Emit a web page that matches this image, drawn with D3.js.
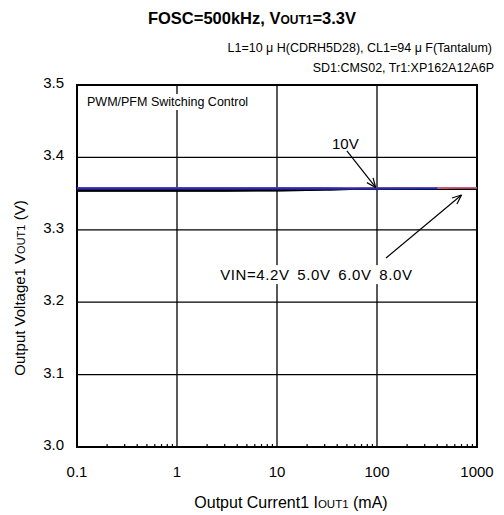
<!DOCTYPE html>
<html>
<head>
<meta charset="utf-8">
<script src="https://cdn.jsdelivr.net/npm/d3@7"></script>
<style>
  body { margin: 0; background: #fff; }
  svg { display: block; font-family: "Liberation Sans", Arial, sans-serif; }
</style>
</head>
<body>
<svg id="chart" width="504" height="515"></svg>
<script>
// load current (mA) and output voltage (V) per input voltage
var currents = [0.1, 0.3, 1, 3, 10, 30, 100, 300, 400, 1000];
var vin42 = [3.3539, 3.3539, 3.3540, 3.3541, 3.3544, 3.3556, 3.3566, 3.3566, 3.3566, 3.3565];
var vin50 = [3.3543, 3.3543, 3.3543, 3.3544, 3.3547, 3.3558, 3.3567, 3.3567, 3.3567, 3.3566];
var vin60 = [3.3550, 3.3550, 3.3550, 3.3551, 3.3554, 3.3562, 3.3568, 3.3568, 3.3568, 3.3567];
var vin80 = [3.3574, 3.3574, 3.3574, 3.3574, 3.3574, 3.3574, 3.3574, 3.3575, 3.3577, 3.3578];
var vin10 = [3.3574, 3.3574, 3.3574, 3.3574, 3.3574, 3.3574, 3.3573, 3.3573, 3.3573, null];
var seriesNames = ["4.2V", "5.0V", "6.0V", "8.0V", "10V"];
var seriesColors = ["#000", "#000", "#000", "#d45a78", "#1a2fd0"];
var xTicks = [0.1, 1, 10, 100, 1000];
var yTicks = [3.0, 3.1, 3.2, 3.3, 3.4, 3.5];

var svg = d3.select("#chart");
var margin = {left: 77, right: 477, top: 85, bottom: 447};

var x = d3.scaleLog().domain([0.1, 1000]).range([margin.left, margin.right]);
var y = d3.scaleLinear().domain([3.0, 3.5]).range([margin.bottom, margin.top]);

// title
var title = svg.append("text")
    .attr("x", 252).attr("y", 24)
    .attr("text-anchor", "middle")
    .style("font-size", "16.5px").style("font-weight", "bold");
title.append("tspan").text("FOSC=500kHz, V");
title.append("tspan").style("font-size", "12px").text("OUT1");
title.append("tspan").text("=3.3V");

svg.append("text").attr("x", 492).attr("y", 52)
    .attr("text-anchor", "end").style("font-size", "12.5px")
    .text("L1=10 \u03bc H(CDRH5D28), CL1=94 \u03bc F(Tantalum)");
svg.append("text").attr("x", 494).attr("y", 72)
    .attr("text-anchor", "end").style("font-size", "12.5px")
    .text("SD1:CMS02, Tr1:XP162A12A6P");

// grid
var grid = svg.append("g");
grid.selectAll("line.v").data(xTicks).enter().append("line")
    .attr("x1", function(d) { return x(d); }).attr("x2", function(d) { return x(d); })
    .attr("y1", margin.top).attr("y2", margin.bottom)
    .attr("stroke", "#000").attr("stroke-width", 1.3);
grid.selectAll("line.h").data(yTicks).enter().append("line")
    .attr("x1", margin.left).attr("x2", margin.right)
    .attr("y1", function(d) { return y(d); }).attr("y2", function(d) { return y(d); })
    .attr("stroke", "#000").attr("stroke-width", 1.3);

// minor ticks along bottom
var minor = [];
xTicks.slice(0, -1).forEach(function(d) {
    for (var k = 2; k <= 9; k++) minor.push(d * k);
});
grid.selectAll("line.m").data(minor).enter().append("line")
    .attr("x1", function(d) { return x(d); }).attr("x2", function(d) { return x(d); })
    .attr("y1", margin.bottom).attr("y2", margin.bottom - 3)
    .attr("stroke", "#000").attr("stroke-width", 1.2);

// frame
svg.append("rect")
    .attr("x", margin.left).attr("y", margin.top)
    .attr("width", margin.right - margin.left).attr("height", margin.bottom - margin.top)
    .attr("fill", "none").attr("stroke", "#000").attr("stroke-width", 2);

// tick labels
svg.selectAll("text.xt").data(xTicks).enter().append("text")
    .attr("x", function(d) { return x(d); }).attr("y", 477)
    .attr("text-anchor", "middle").style("font-size", "15px")
    .text(function(d) { return String(d); });
svg.selectAll("text.yt").data(yTicks).enter().append("text")
    .attr("x", 64).attr("y", function(d) { return y(d) + 3; })
    .attr("text-anchor", "end").style("font-size", "15px")
    .text(function(d) { return d.toFixed(1); });

// axis titles
var xt = svg.append("text").attr("x", 291).attr("y", 508)
    .attr("text-anchor", "middle").style("font-size", "16px");
xt.append("tspan").text("Output Current1  I");
xt.append("tspan").style("font-size", "11.5px").text("OUT1");
xt.append("tspan").text(" (mA)");

var yt = svg.append("text")
    .attr("transform", "translate(25," + 288 + ") rotate(-90)")
    .attr("text-anchor", "middle").style("font-size", "15px");
yt.append("tspan").text("Output Voltage1  V");
yt.append("tspan").style("font-size", "11px").text("OUT1");
yt.append("tspan").text(" (V)");

// labels with white boxes over the grid
function boxLabel(tx, ty, str, size, spacing) {
    var t = svg.append("text").attr("x", tx).attr("y", ty)
        .style("font-size", size + "px")
        .style("letter-spacing", spacing ? spacing + "px" : null)
        .style("word-spacing", spacing ? (spacing * 5) + "px" : null)
        .text(str);
    var b = t.node().getBBox();
    svg.insert("rect", function() { return t.node(); })
        .attr("x", b.x - 2).attr("y", b.y - 1)
        .attr("width", b.width + 4).attr("height", b.height + 2)
        .attr("fill", "#fff");
    return t;
}
boxLabel(87, 106, "PWM/PFM Switching Control", 12.5);

// curves
var line = d3.line()
    .defined(function(d) { return d != null; })
    .x(function(d, i) { return x(currents[i]); })
    .y(function(d) { return y(d); })
    .curve(d3.curveMonotoneX);
var allSeries = [vin42, vin50, vin60, vin80, vin10];
svg.append("g").selectAll("path").data(allSeries).enter().append("path")
    .attr("d", line)
    .attr("fill", "none")
    .attr("stroke", function(d, i) { return seriesColors[i]; })
    .attr("stroke-width", function(d, i) { return i >= 3 ? 1.8 : 2; });

// annotations
function arrow(x1, y1, x2, y2) {
    svg.append("line").attr("x1", x1).attr("y1", y1).attr("x2", x2).attr("y2", y2)
        .attr("stroke", "#000").attr("stroke-width", 1.2);
    var a = Math.atan2(y2 - y1, x2 - x1), len = 10, spread = 0.4;
    [a + Math.PI - spread, a + Math.PI + spread].forEach(function(b) {
        svg.append("line").attr("x1", x2).attr("y1", y2)
            .attr("x2", x2 + len * Math.cos(b)).attr("y2", y2 + len * Math.sin(b))
            .attr("stroke", "#000").attr("stroke-width", 1.2);
    });
}
boxLabel(x(35.5), y(3.4115), "10V", 15);
arrow(x(50), y(3.409), x(97), y(3.3585));
boxLabel(x(2.7), y(3.2305), "VIN=4.2V 5.0V 6.0V 8.0V", 15, 0.6);
arrow(x(123), y(3.261), x(700), y(3.348));
</script>
</body>
</html>
